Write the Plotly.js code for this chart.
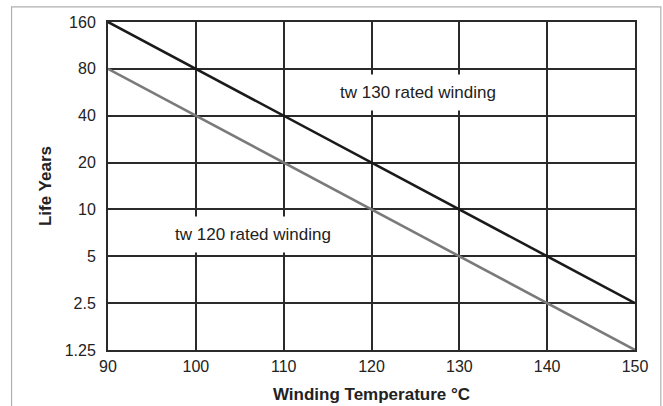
<!DOCTYPE html>
<html>
<head>
<meta charset="utf-8">
<script src="https://cdn.plot.ly/plotly-3.0.1.min.js"></script>
<style>html,body{margin:0;padding:0;background:#fff;}#chart{width:663px;height:406px;}</style>
</head>
<body>
<div id="chart"></div>
<script>
var temps = [90, 100, 110, 120, 130, 140, 150];
var life130 = [160, 80, 40, 20, 10, 5, 2.5];
var life120 = [80, 40, 20, 10, 5, 2.5, 1.25];
var yTicks = [1.25, 2.5, 5, 10, 20, 40, 80, 160];
var yTickText = ["1.25", "2.5", "5", "10", "20", "40", "80", "160"];
var xTicks = [90, 100, 110, 120, 130, 140, 150];

var font = "Liberation Sans, Arial, Helvetica, sans-serif";

var traces = [
  {x: temps, y: life130, mode: "lines", line: {color: "#1a1a1a", width: 2.6}, hoverinfo: "skip"},
  {x: temps, y: life120, mode: "lines", line: {color: "#7a7a7a", width: 2.6}, hoverinfo: "skip"}
];

var layout = {
  width: 663, height: 406,
  margin: {l: 108, r: 28, t: 22, b: 56},
  paper_bgcolor: "#fff", plot_bgcolor: "#fff",
  showlegend: false,
  font: {family: font, size: 16, color: "#222"},
  xaxis: {
    range: [90, 150], tickvals: xTicks, showgrid: true, gridcolor: "#2a2a2a", gridwidth: 2,
    zeroline: false, showline: true, linecolor: "#2a2a2a", linewidth: 2, mirror: true,
    ticks: "", ticklabelstandoff: 1,
    tickfont: {family: font, size: 16, color: "#222"},
    title: {text: "<b>Winding Temperature °C</b>", font: {family: font, size: 17, color: "#222"}, standoff: 14}
  },
  yaxis: {
    type: "log", range: [Math.log10(1.25), Math.log10(160)],
    tickvals: yTicks, ticktext: yTickText, showgrid: true, gridcolor: "#2a2a2a", gridwidth: 2,
    zeroline: false, showline: true, linecolor: "#2a2a2a", linewidth: 2, mirror: true,
    ticks: "", ticklabelstandoff: 7,
    tickfont: {family: font, size: 16, color: "#222"},
    title: {text: "<b>Life Years</b>", font: {family: font, size: 17, color: "#222"}, standoff: 9}
  },
  annotations: [
    {x: 125.3, y: Math.log10(56), xref: "x", yref: "y", text: "tw 130 rated winding", showarrow: false,
     bgcolor: "#fff", borderpad: 8, font: {family: font, size: 17, color: "#222"}},
    {x: 106.5, y: Math.log10(6.9), xref: "x", yref: "y", text: "tw 120 rated winding", showarrow: false,
     bgcolor: "#fff", borderpad: 8, font: {family: font, size: 17, color: "#222"}}
  ],
  shapes: [
    {type: "rect", xref: "paper", yref: "paper", x0: -0.183, x1: 1.049, y0: -0.2, y1: 1.046,
     line: {color: "#b0b0b0", width: 1.2}, fillcolor: "rgba(0,0,0,0)", layer: "below"}
  ]
};

Plotly.newPlot("chart", traces, layout, {staticPlot: true, displayModeBar: false});
</script>
</body>
</html>
